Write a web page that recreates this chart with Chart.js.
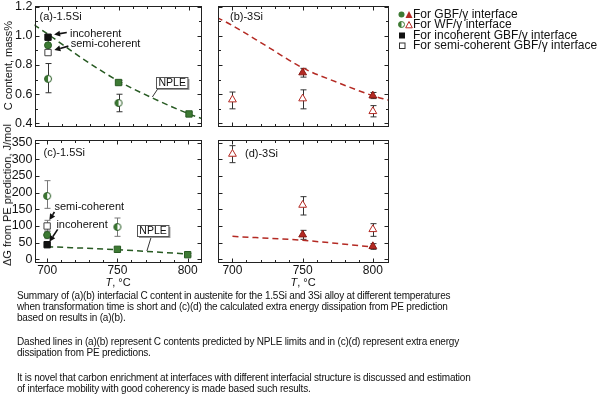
<!DOCTYPE html>
<html>
<head>
<meta charset="utf-8">
<script src="https://cdn.jsdelivr.net/npm/chart.js@4.4.1/dist/chart.umd.min.js"></script>
<style>
  html, body { margin: 0; padding: 0; background: #fff; }
  body { width: 600px; height: 395px; position: relative; overflow: hidden; font-family: "Liberation Sans", Arial, sans-serif; color: #111; }
  canvas { position: absolute; }
  .xt { position: absolute; font-size: 11px; transform: translateX(-50%); white-space: nowrap; }
  .yt { position: absolute; font-size: 11px; white-space: nowrap; transform: translate(-50%, -50%) rotate(-90deg); }
  #legend { position: absolute; left: 398px; top: 8.5px; font-size: 12px; line-height: 10.6px; white-space: nowrap; }
  #legend svg { display: inline-block; width: 15px; height: 9px; vertical-align: -1px; }
  #caption { position: absolute; left: 17px; top: 290px; font-family: "Liberation Sans Narrow", "Arial Narrow", sans-serif; font-size: 10px; letter-spacing: -0.2px; line-height: 11px; white-space: nowrap; }
  #caption p { margin: 0 0 13.4px 0; }
</style>
</head>
<body>
<canvas id="pa" width="210" height="131" style="left:0;top:0"></canvas>
<canvas id="pb" width="195" height="131" style="left:205px;top:0"></canvas>
<canvas id="pc" width="210" height="157" style="left:0;top:125px"></canvas>
<canvas id="pd" width="195" height="157" style="left:205px;top:125px"></canvas>
<div class="yt" style="left:7px;top:195px">ΔG from PE prediction, J/mol</div>
<div class="xt" style="left:118px;top:276px"><i>T</i>, °C</div>
<div class="xt" style="left:303px;top:276px"><i>T</i>, °C</div>
<div id="legend">
  <div><svg viewBox="0 0 15 9"><circle cx="3.5" cy="4.5" r="3" fill="#3d7a33"/><path d="M11 1 L14.5 8 L7.5 8 Z" fill="#b42a23"/></svg>For GBF/γ interface</div>
  <div><svg viewBox="0 0 15 9"><circle cx="3.5" cy="4.5" r="3" fill="#fff" stroke="#3d7a33"/><path d="M3.5 1.5 A3 3 0 0 0 3.5 7.5 Z" fill="#3d7a33"/><path d="M11 1.5 L14.3 7.8 L7.7 7.8 Z" fill="#fff" stroke="#b42a23"/></svg>For WF/γ interface</div>
  <div><svg viewBox="0 0 15 9"><rect x="1" y="1.5" width="6" height="6" fill="#111"/></svg>For incoherent GBF/γ interface</div>
  <div><svg viewBox="0 0 15 9"><rect x="1.5" y="2" width="5.5" height="5.5" fill="#fff" stroke="#333"/></svg>For semi-coherent GBF/γ interface</div>
</div>
<div id="caption">
  <p>Summary of (a)(b) interfacial C content in austenite for the 1.5Si and 3Si alloy at different temperatures<br>when transformation time is short and (c)(d) the calculated extra energy dissipation from PE prediction<br>based on results in (a)(b).</p>
  <p>Dashed lines in (a)(b) represent C contents predicted by NPLE limits and in (c)(d) represent extra energy<br>dissipation from PE predictions.</p>
  <p>It is novel that carbon enrichment at interfaces with different interfacial structure is discussed and estimation<br>of interface mobility with good coherency is made based such results.</p>
</div>
<script>
// axis ticks
const X_MAJOR = [700, 750, 800];
const X_MINOR = [710, 720, 730, 740, 760, 770, 780, 790];
const C_MAJOR = [0.4, 0.6, 0.8, 1.0, 1.2];
const C_MINOR = [0.5, 0.7, 0.9, 1.1];
const G_MAJOR = [0, 50, 100, 150, 200, 250, 300, 350];

// (a) 1.5Si, C content, mass%
const A_GBF_T = [700, 750, 800];
const A_GBF = [0.935, 0.68, 0.465];
const A_GBF_LO = [0.87, 0.665, 0.455];
const A_GBF_HI = [1.0, 0.695, 0.475];
const A_WF_T = [700, 750];
const A_WF = [0.705, 0.54];
const A_WF_LO = [0.61, 0.48];
const A_WF_HI = [0.81, 0.60];
const A_INC = [0.99];
const A_SEMI = [0.885];
const A_NPLE_T = [690, 700, 725, 750, 775, 800, 810];
const A_NPLE = [1.075, 1.01, 0.84, 0.69, 0.57, 0.465, 0.43];

// (b) 3Si, C content, mass%
const B_GBF_T = [750, 800];
const B_GBF = [0.748, 0.59];
const B_GBF_LO = [0.717, 0.57];
const B_GBF_HI = [0.777, 0.612];
const B_WF_T = [700, 750, 800];
const B_WF = [0.563, 0.57, 0.483];
const B_WF_LO = [0.50, 0.50, 0.445];
const B_WF_HI = [0.615, 0.63, 0.522];
const B_NPLE_T = [689, 700, 725, 750, 775, 800, 811];
const B_NPLE = [1.125, 1.07, 0.925, 0.78, 0.68, 0.59, 0.56];

// (c) 1.5Si, dG from PE prediction, J/mol
const C_GBF_T = [700, 750, 800];
const C_GBF = [73, 30, 14];
const C_GBF_LO = [62, 24, 10];
const C_GBF_HI = [84, 36, 18];
const C_WF_T = [700, 750];
const C_WF = [190, 97];
const C_WF_LO = [153, 69];
const C_WF_HI = [236, 124];
const C_INC = [44];
const C_INC_LO = [35];
const C_INC_HI = [52];
const C_SEMI = [100];
const C_SEMI_LO = [85];
const C_SEMI_HI = [117];
const C_PE_T = [700, 750, 800];
const C_PE = [38, 29, 16];

// (d) 3Si, dG from PE prediction, J/mol
const D_GBF_T = [750, 800];
const D_GBF = [74, 39];
const D_GBF_LO = [60, 30];
const D_GBF_HI = [87, 47];
const D_WF_T = [700, 750, 800];
const D_WF = [316, 163, 90];
const D_WF_LO = [290, 133, 69];
const D_WF_HI = [341, 188, 107];
const D_PE_T = [700, 750, 800];
const D_PE = [69, 57, 37];

const GREEN = "#3d7a33", GREEN_D = "#275a22", RED = "#b42a23", RED_D = "#8a1a15", INK = "#222";
const FONT = "11px 'Liberation Sans', Arial, sans-serif";

const pts = (xs, ys) => xs.map((x, i) => ({ x, y: ys[i] }));

function halfCircle(r) {
  const c = document.createElement("canvas"), s = 2 * r + 3, m = s / 2;
  c.width = c.height = s;
  const g = c.getContext("2d");
  g.beginPath(); g.arc(m, m, r, 0, 2 * Math.PI); g.fillStyle = "#fff"; g.fill();
  g.beginPath(); g.arc(m, m, r, Math.PI / 2, 3 * Math.PI / 2); g.closePath(); g.fillStyle = GREEN; g.fill();
  g.beginPath(); g.arc(m, m, r, 0, 2 * Math.PI); g.strokeStyle = GREEN_D; g.lineWidth = 1; g.stroke();
  return c;
}
const HALF = halfCircle(3.5);

const errPlugin = {
  id: "err",
  beforeDatasetsDraw(chart) {
    const { ctx, scales: { x, y } } = chart;
    ctx.save();
    ctx.lineWidth = 1;
    chart.data.datasets.forEach(ds => {
      if (!ds.errLo) return;
      ctx.strokeStyle = ds.errColor || "#333";
      ds.data.forEach((p, j) => {
        const px = Math.round(x.getPixelForValue(p.x)) + 0.5;
        const y1 = y.getPixelForValue(ds.errLo[j]), y2 = y.getPixelForValue(ds.errHi[j]);
        ctx.beginPath();
        ctx.moveTo(px, y1); ctx.lineTo(px, y2);
        ctx.moveTo(px - 3, y1); ctx.lineTo(px + 3, y1);
        ctx.moveTo(px - 3, y2); ctx.lineTo(px + 3, y2);
        ctx.stroke();
      });
    });
    ctx.restore();
  }
};

const framePlugin = {
  id: "frame",
  afterDraw(chart, args, o) {
    const { ctx, chartArea: a, scales: { x, y } } = chart;
    ctx.save();
    ctx.strokeStyle = INK; ctx.lineWidth = 1;
    const L = Math.round(a.left) + 0.5, R = Math.round(a.right) + 0.5;
    const T = Math.round(a.top) + 0.5, B = Math.round(a.bottom) + 0.5;
    ctx.strokeRect(L, T, R - L, B - T);
    ctx.beginPath();
    const xt = (v, len) => {
      const px = Math.round(x.getPixelForValue(v)) + 0.5;
      ctx.moveTo(px, B); ctx.lineTo(px, B - len);
      ctx.moveTo(px, T); ctx.lineTo(px, T + len);
    };
    const yt = (v, len) => {
      const py = Math.round(y.getPixelForValue(v)) + 0.5;
      ctx.moveTo(L, py); ctx.lineTo(L + len, py);
      ctx.moveTo(R, py); ctx.lineTo(R - len, py);
    };
    o.xMajor.forEach(v => xt(v, 4));
    o.xMinor.forEach(v => xt(v, 2.5));
    o.yMajor.forEach(v => yt(v, 4));
    (o.yMinor || []).forEach(v => yt(v, 2.5));
    ctx.stroke();

    ctx.font = FONT; ctx.fillStyle = "#111"; ctx.textBaseline = "middle";
    ctx.fillText(o.label, a.left + o.labelDx, a.top + o.labelDy);

    (o.notes || []).forEach(n => {
      ctx.fillText(n.text, x.getPixelForValue(n.x), y.getPixelForValue(n.y));
    });
    (o.arrows || []).forEach(ar => {
      const x1 = x.getPixelForValue(ar.x1), y1 = y.getPixelForValue(ar.y1);
      const x2 = x.getPixelForValue(ar.x2), y2 = y.getPixelForValue(ar.y2);
      const ang = Math.atan2(y2 - y1, x2 - x1), hl = 6, hw = 3;
      const bx = x2 - hl * Math.cos(ang), by = y2 - hl * Math.sin(ang);
      ctx.beginPath(); ctx.lineWidth = 1.6; ctx.strokeStyle = "#111";
      ctx.moveTo(x1, y1); ctx.lineTo(bx, by); ctx.stroke();
      ctx.beginPath(); ctx.fillStyle = "#111";
      ctx.moveTo(x2, y2);
      ctx.lineTo(bx + hw * Math.sin(ang), by - hw * Math.cos(ang));
      ctx.lineTo(bx - hw * Math.sin(ang), by + hw * Math.cos(ang));
      ctx.closePath(); ctx.fill();
    });
    (o.boxes || []).forEach(b => {
      ctx.lineWidth = 1; ctx.strokeStyle = "#333";
      ctx.beginPath();
      ctx.moveTo(x.getPixelForValue(b.lx1), y.getPixelForValue(b.ly1));
      ctx.lineTo(x.getPixelForValue(b.lx2), y.getPixelForValue(b.ly2));
      ctx.stroke();
      ctx.font = "10.5px 'Liberation Sans', Arial, sans-serif";
      const w = ctx.measureText(b.text).width + 4, h = 11;
      const cx = x.getPixelForValue(b.x), cy = y.getPixelForValue(b.y);
      const bx = Math.round(cx - w / 2) + 0.5, by = Math.round(cy - h / 2) + 0.5;
      ctx.fillStyle = "#999"; ctx.fillRect(bx + 1.5, by + 1.5, w, h);
      ctx.fillStyle = "#fff"; ctx.fillRect(bx, by, w, h);
      ctx.strokeStyle = "#555"; ctx.strokeRect(bx, by, w, h);
      ctx.fillStyle = "#111"; ctx.textAlign = "center";
      ctx.fillText(b.text, cx + 0.5, cy + 0.5);
      ctx.textAlign = "left";
    });
    ctx.restore();
  }
};

function lineSet(xs, ys, color) {
  return { type: "line", showLine: true, data: pts(xs, ys), borderColor: color, borderWidth: 1.5,
    borderDash: [6, 4], pointRadius: 0, cubicInterpolationMode: "monotone", clip: 0 };
}
function markSet(xs, ys, style, radius, fill, stroke, lo, hi, errColor) {
  return { data: pts(xs, ys), pointStyle: style, pointRadius: radius, pointHoverRadius: radius,
    backgroundColor: fill, borderColor: stroke, borderWidth: 1, errLo: lo, errHi: hi, errColor, clip: false };
}

function panel(id, p) {
  const y = { type: "linear", min: p.yMin, max: p.yMax, display: p.showY,
    afterBuildTicks: s => { s.ticks = p.yMajor.map(v => ({ value: v })); },
    afterFit: s => { s.paddingTop = 0; s.paddingBottom = 0; if (p.showY) s.width = 34.5; },
    grid: { display: false, drawTicks: false }, border: { display: false },
    ticks: { color: "#111", padding: 2, autoSkip: false, font: { size: 12.5, family: "'Liberation Sans', Arial" },
      callback: p.fmt },
    title: { display: !!p.yTitle, text: p.yTitle, color: "#111", padding: { top: p.titlePad || 0, bottom: 0 },
      font: { size: 11, family: "'Liberation Sans', Arial" } } };
  const x = { type: "linear", min: p.xMin, max: p.xMax, display: p.showX,
    afterBuildTicks: s => { s.ticks = X_MAJOR.map(v => ({ value: v })); },
    afterFit: s => { s.paddingLeft = 0; s.paddingRight = 0; if (p.showX) s.height = 20; },
    grid: { display: false, drawTicks: false }, border: { display: false },
    ticks: { color: "#111", padding: 1, autoSkip: false, maxRotation: 0, font: { size: 12, family: "'Liberation Sans', Arial" } } };
  return new Chart(document.getElementById(id), {
    type: "scatter",
    data: { datasets: p.datasets },
    options: {
      responsive: false, animation: false, events: [],
      layout: { padding: p.pad },
      scales: { x, y },
      plugins: { legend: { display: false }, tooltip: { enabled: false },
        frame: { xMajor: X_MAJOR, xMinor: X_MINOR, yMajor: p.yMajor, yMinor: p.yMinor,
          label: p.label, labelDx: p.labelDx, labelDy: p.labelDy,
          notes: p.notes, arrows: p.arrows, boxes: p.boxes } }
    },
    plugins: [errPlugin, framePlugin]
  });
}

panel("pa", {
  xMin: 690.4, xMax: 808.5, yMin: 0.386, yMax: 1.207, showX: false, showY: true,
  yMajor: C_MAJOR, yMinor: C_MINOR, fmt: v => v.toFixed(1), yTitle: "C content, mass%", titlePad: 2,
  pad: { left: 0, right: 9, top: 5, bottom: 5 },
  label: "(a)-1.5Si", labelDx: 5, labelDy: 11,
  notes: [{ text: "incoherent", x: 715.6, y: 1.015 }, { text: "semi-coherent", x: 716.1, y: 0.942 }],
  arrows: [{ x1: 713.3, y1: 1.022, x2: 704.3, y2: 1.008 }, { x1: 714.4, y1: 0.929, x2: 704.5, y2: 0.902 }],
  boxes: [{ text: "NPLE", x: 787.7, y: 0.681, lx1: 778.2, ly1: 0.642, lx2: 774, ly2: 0.581 }],
  datasets: [
    markSet([700], A_INC, "rect", 4.5, "#111", "#111"),
    markSet([700], A_SEMI, "rect", 4.5, "#fff", "#444"),
    markSet(A_GBF_T, A_GBF, ["circle", "rect", "rect"], [3.5, 4.5, 4.5], GREEN, GREEN_D, A_GBF_LO, A_GBF_HI, "#777"),
    markSet(A_WF_T, A_WF, HALF, 4, GREEN, GREEN_D, A_WF_LO, A_WF_HI, "#333"),
    lineSet(A_NPLE_T, A_NPLE, GREEN_D)
  ]
});

panel("pb", {
  xMin: 689.7, xMax: 810.8, yMin: 0.386, yMax: 1.207, showX: false, showY: false,
  yMajor: C_MAJOR, yMinor: C_MINOR, fmt: v => v.toFixed(1),
  pad: { left: 13, right: 12, top: 5, bottom: 5 },
  label: "(b)-3Si", labelDx: 12, labelDy: 11,
  datasets: [
    markSet(B_GBF_T, B_GBF, "triangle", 4.5, RED, RED_D, B_GBF_LO, B_GBF_HI, "#333"),
    markSet(B_WF_T, B_WF, "triangle", 4.5, "#fff", RED, B_WF_LO, B_WF_HI, "#333"),
    lineSet(B_NPLE_T, B_NPLE, RED)
  ]
});

panel("pc", {
  xMin: 691, xMax: 809.5, yMin: -8, yMax: 358, showX: true, showY: true,
  yMajor: G_MAJOR, fmt: v => String(v),
  pad: { left: 0, right: 9, top: 15, bottom: 0 },
  label: "(c)-1.5Si", labelDx: 9, labelDy: 13,
  notes: [{ text: "semi-coherent", x: 705.2, y: 156.5 }, { text: "incoherent", x: 706.6, y: 104.4 }],
  arrows: [{ x1: 705.2, y1: 142, x2: 701.6, y2: 118 }, { x1: 707.5, y1: 90, x2: 701.6, y2: 53 }],
  boxes: [{ text: "NPLE", x: 775, y: 87, lx1: 774.2, ly1: 69, lx2: 771, ly2: 25 }],
  datasets: [
    markSet([700], C_INC, "rect", 4.5, "#111", "#111", C_INC_LO, C_INC_HI, "#777"),
    markSet([700], C_SEMI, "rect", 4.5, "#fff", "#444", C_SEMI_LO, C_SEMI_HI, "#777"),
    markSet(C_GBF_T, C_GBF, ["circle", "rect", "rect"], [3.5, 4.5, 4.5], GREEN, GREEN_D, C_GBF_LO, C_GBF_HI, "#777"),
    markSet(C_WF_T, C_WF, HALF, 4, GREEN, GREEN_D, C_WF_LO, C_WF_HI, "#777"),
    lineSet(C_PE_T, C_PE, GREEN_D)
  ]
});

panel("pd", {
  xMin: 689.7, xMax: 810.8, yMin: -8, yMax: 358, showX: true, showY: false,
  yMajor: G_MAJOR, fmt: v => String(v),
  pad: { left: 13, right: 12, top: 15, bottom: 0 },
  label: "(d)-3Si", labelDx: 27, labelDy: 14,
  datasets: [
    markSet(D_GBF_T, D_GBF, "triangle", 4.5, RED, RED_D, D_GBF_LO, D_GBF_HI, "#333"),
    markSet(D_WF_T, D_WF, "triangle", 4.5, "#fff", RED, D_WF_LO, D_WF_HI, "#333"),
    lineSet(D_PE_T, D_PE, RED)
  ]
});
</script>
</body>
</html>
